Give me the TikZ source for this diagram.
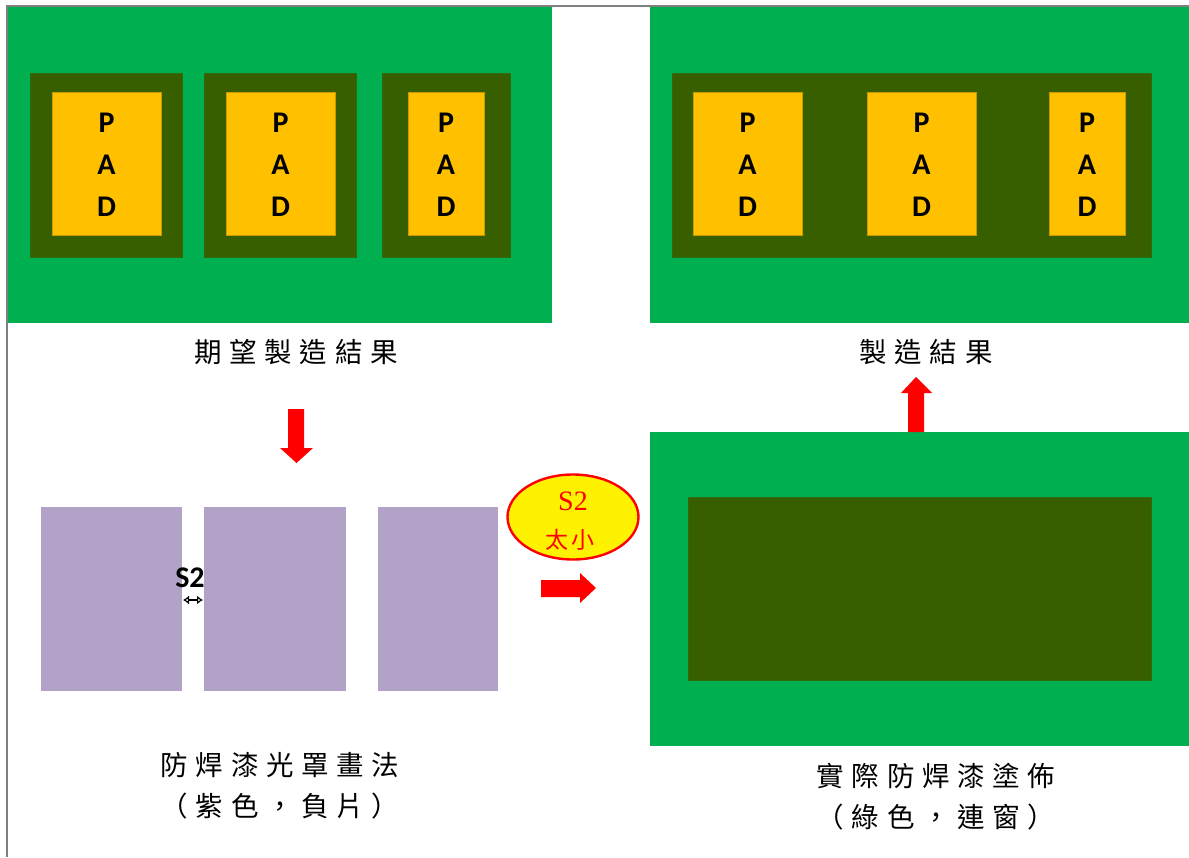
\documentclass[tikz,border=0pt]{standalone}
\usepackage{fontspec}
\setmainfont{Liberation Serif}
\newfontfamily\cjk{Noto Sans CJK TC}
\newfontfamily\cjksp[LetterSpace=28]{Noto Sans CJK TC}
\newfontfamily\padfont{Carlito}
\usetikzlibrary{arrows.meta,shapes.geometric}
\definecolor{pcbgreen}{HTML}{00B050}
\definecolor{maskdark}{HTML}{375F00}
\definecolor{padcol}{HTML}{FFC000}
\definecolor{padedge}{HTML}{C99A00}
\definecolor{purp}{HTML}{B3A2C7}
\definecolor{framegray}{HTML}{808080}
\tikzset{
  board/.style={fill=pcbgreen},
  opening/.style={fill=maskdark, draw=maskdark!85!pcbgreen, line width=0.6pt},
  padbox/.style={fill=padcol, draw=padedge, line width=0.6pt},
  masknode/.style={fill=purp},
  padtext/.style={font=\padfont\bfseries\fontsize{30}{42}\selectfont, align=center, inner sep=0pt, text=black},
  caption/.style={font=\cjksp\fontsize{27.5}{41}\selectfont, align=center, inner sep=0pt},
  blockarrow/.style={fill=red},
}
\begin{document}
\begin{tikzpicture}[x=1pt,y=-1pt]
\useasboundingbox (0,0) rectangle (1189,857);
% frame
\draw[framegray, line width=2pt] (7,857) -- (7,6) -- (1189,6);

% top-left board
\fill[board] (8,7) rectangle (552,323);
\filldraw[opening] (30,73) rectangle (182,257);
\filldraw[opening] (204,73) rectangle (356,257);
\filldraw[opening] (382,73) rectangle (510,257);
\filldraw[padbox] (52,92) rectangle (161,235);
\filldraw[padbox] (226,92) rectangle (335,235);
\filldraw[padbox] (408,92) rectangle (484,235);
\node[padtext] (p1) at (106.5,165) {P\\A\\D};
\node[padtext] (p2) at (280.5,165) {P\\A\\D};
\node[padtext] (p3) at (446,165) {P\\A\\D};

% top-right board
\fill[board] (650,7) rectangle (1189,323);
\filldraw[opening] (672,73) rectangle (1151,257);
\filldraw[padbox] (693,92) rectangle (802,235);
\filldraw[padbox] (867,92) rectangle (976,235);
\filldraw[padbox] (1049,92) rectangle (1125,235);
\node[padtext] (q1) at (747.5,165) {P\\A\\D};
\node[padtext] (q2) at (921.5,165) {P\\A\\D};
\node[padtext] (q3) at (1087,165) {P\\A\\D};

% captions top
\node[caption] (cap1) at (296,352) {期望製造結果};
\node[caption] (cap2) at (926,352) {製造結果};

% down arrow
\fill[blockarrow] (288,409) -- (304,409) -- (304,448) -- (313,448) -- (296.5,463) -- (280,448) -- (288,448) -- cycle;

% mask (purple)
\fill[masknode] (41,507) rectangle (182,691);
\fill[masknode] (204,507) rectangle (346,691);
\fill[masknode] (378,507) rectangle (498,691);
\node[font=\padfont\bfseries\fontsize{30}{32}\selectfont, inner sep=0pt] (s2) at (190,578) {S2};
\coordinate (s2l) at (183,600);
\coordinate (s2r) at (203,600);
\draw[line width=1.3pt, {Latex[open,length=6pt,width=9pt]}-{Latex[open,length=6pt,width=9pt]}] (s2l) -- (s2r);

\node[caption] (cap3) at (280,786) {防焊漆光罩畫法\\（紫色，負片）};

% ellipse note
\node[draw=red, fill=yellow, line width=2.4pt, ellipse, minimum width=131pt, minimum height=85pt, inner sep=0pt] (note) at (573,517) {};
\node[text=red, font=\fontsize{28}{30}\selectfont, inner sep=0pt] (noteA) at (573,501) {S2};
\node[text=red, font=\cjk\fontsize{23}{26}\selectfont, inner sep=0pt] (noteB) at (570,540) {太\hspace{3pt}小};

% right arrow
\fill[blockarrow] (541,580) -- (580,580) -- (580,573) -- (596,588) -- (580,603) -- (580,597) -- (541,597) -- cycle;

% bottom-right board
\fill[board] (650,432) rectangle (1189,746);
\filldraw[opening] (688,497) rectangle (1151,680);

% up arrow
\fill[blockarrow] (908,432) -- (924,432) -- (924,393) -- (932,393) -- (916,377) -- (901,393) -- (908,393) -- cycle;

\node[caption] (cap4) at (936,797) {實際防焊漆塗佈\\（綠色，連窗）};
\end{tikzpicture}
\end{document}
